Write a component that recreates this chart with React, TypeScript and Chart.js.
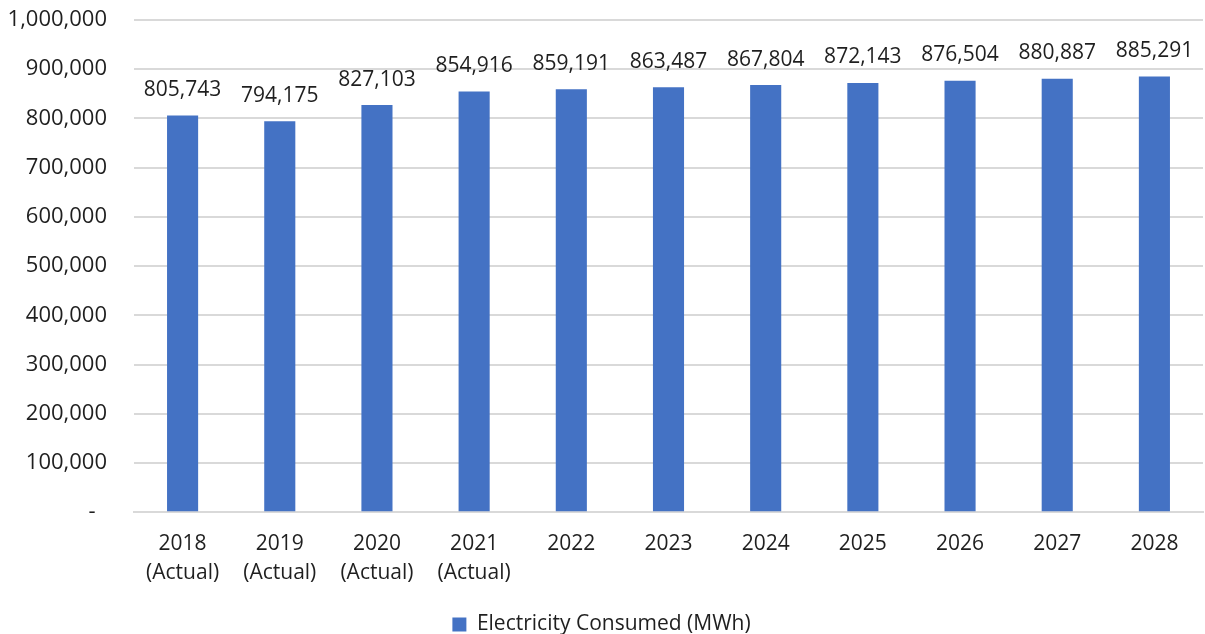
import React, { useEffect, useRef } from "react";
import { Chart, registerables } from "chart.js";

Chart.register(...registerables);

const categories: (string | string[])[] = [
  ["2018", "(Actual)"],
  ["2019", "(Actual)"],
  ["2020", "(Actual)"],
  ["2021", "(Actual)"],
  "2022",
  "2023",
  "2024",
  "2025",
  "2026",
  "2027",
  "2028",
];
const electricityConsumed = [
  805743, 794175, 827103, 854916, 859191, 863487, 867804, 872143, 876504, 880887, 885291,
];
const seriesLabel = "Electricity Consumed (MWh)";

const FONT = "'Open Sans', 'Noto Sans', sans-serif";
const TEXT = "#1f1f1f";
const BLUE = "#4472C4";

const dataLabels = {
  id: "dataLabels",
  afterDatasetsDraw(chart: any) {
    const ctx = chart.ctx;
    const meta = chart.getDatasetMeta(0);
    ctx.save();
    ctx.font = `21px ${FONT}`;
    ctx.fillStyle = TEXT;
    ctx.textAlign = "center";
    ctx.textBaseline = "bottom";
    meta.data.forEach((bar: any, i: number) => {
      const v = chart.data.datasets[0].data[i] as number;
      ctx.fillText(v.toLocaleString("en-US"), bar.x, bar.y - 15);
    });
    ctx.restore();
  },
};

export default function App() {
  const ref = useRef<HTMLCanvasElement>(null);
  useEffect(() => {
    document.body.style.margin = "0";
    const chart = new Chart(ref.current!, {
      type: "bar",
      data: {
        labels: categories,
        datasets: [
          {
            label: seriesLabel,
            data: electricityConsumed,
            backgroundColor: BLUE,
            barPercentage: 0.32,
            categoryPercentage: 1,
          },
        ],
      },
      options: {
        animation: false,
        responsive: false,
        maintainAspectRatio: false,
        layout: { padding: { top: 0, right: 2, left: 0, bottom: -11 } },
        scales: {
          x: {
            grid: { display: false, drawTicks: false },
            border: { display: true, color: "#d9d9d9", width: 2 },
            ticks: {
              color: TEXT,
              font: { family: FONT, size: 21, lineHeight: 1.4 },
              padding: 17,
              maxRotation: 0,
            },
            afterFit: (scale: any) => {
              scale.height = scale.height + 5;
            },
          },
          y: {
            min: 0,
            max: 1000000,
            ticks: {
              stepSize: 100000,
              color: TEXT,
              font: { family: FONT, size: 22 },
              padding: 27,
              callback: (v: any) => (v === 0 ? "-  " : Number(v).toLocaleString("en-US")),
            },
            grid: { color: "#d9d9d9", lineWidth: 2, drawTicks: false },
            border: { display: false },
            afterFit: (scale: any) => {
              scale.width = 134;
              scale.paddingTop = 20;
              scale.paddingBottom = 10;
            },
          },
        },
        plugins: {
          legend: {
            position: "bottom",
            labels: {
              color: TEXT,
              font: { family: FONT, size: 21 },
              boxWidth: 14,
              boxHeight: 14,
              padding: 4,
            },
          },
          tooltip: { enabled: false },
        },
      },
      plugins: [dataLabels],
    });
    return () => chart.destroy();
  }, []);
  return (
    <div style={{ width: 1205, height: 634 }}>
      <canvas ref={ref} width={1205} height={634} style={{ display: "block" }} />
    </div>
  );
}
